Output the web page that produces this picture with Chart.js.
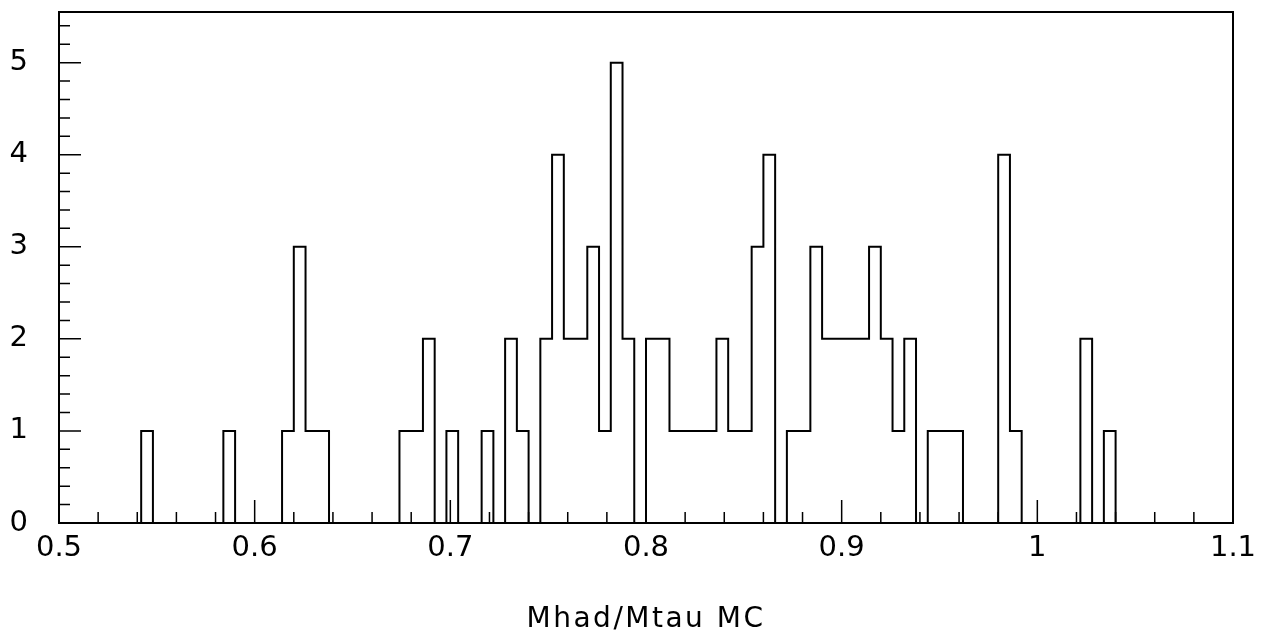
<!DOCTYPE html>
<html>
<head>
<meta charset="utf-8">
<script src="https://cdn.jsdelivr.net/npm/chart.js@4.4.0/dist/chart.umd.min.js"></script>
<style>
  html, body { margin: 0; padding: 0; background: #fff; }
  #wrap { width: 1264px; height: 640px; }
</style>
</head>
<body>
<div id="wrap"><canvas id="hist" width="1264" height="640"></canvas></div>
<script>
// Histogram binning: 100 bins from 0.5 to 1.1
const binLow = 0.5;
const binHigh = 1.1;
const binWidth = 0.006;

// Entries per bin
const counts = [
  0, 0, 0, 0, 0, 0, 0, 1, 0, 0,
  0, 0, 0, 0, 1, 0, 0, 0, 0, 1,
  3, 1, 1, 0, 0, 0, 0, 0, 0, 1,
  1, 2, 0, 1, 0, 0, 1, 0, 2, 1,
  0, 2, 4, 2, 2, 3, 1, 5, 2, 0,
  2, 2, 1, 1, 1, 1, 2, 1, 1, 3,
  4, 0, 1, 1, 3, 2, 2, 2, 2, 3,
  2, 1, 2, 0, 1, 1, 1, 0, 0, 0,
  4, 1, 0, 0, 0, 0, 0, 2, 0, 1,
  0, 0, 0, 0, 0, 0, 0, 0, 0, 0,
];

const xTickValues = [0.5, 0.6, 0.7, 0.8, 0.9, 1.0, 1.1];
const xTickLabels = ["0.5", "0.6", "0.7", "0.8", "0.9", "1", "1.1"];
const yTickValues = [0, 1, 2, 3, 4, 5];
const yTickLabels = ["0", "1", "2", "3", "4", "5"];
const yMax = 5.55;
const xMinorStep = 0.02;
const yMinorStep = 0.2;

// Step outline points at bin left edges, closing at the upper edge
const points = counts.map((c, i) => ({ x: binLow + i * binWidth, y: c }));
points.push({ x: binHigh, y: counts[counts.length - 1] });

const font = "'DejaVu Sans', 'Liberation Sans', sans-serif";

// Wider spacing for the axis title only (tick labels are drawn later, on z 1)
const titleSpacing = {
  id: "titleSpacing",
  beforeDraw(chart) { chart.ctx.letterSpacing = "2.5px"; },
  beforeDatasetsDraw(chart) { chart.ctx.letterSpacing = "0px"; },
};

// PAW style frame with tick marks pointing inwards
const innerTicks = {
  id: "innerTicks",
  afterDatasetsDraw(chart) {
    const { ctx, chartArea: a, scales: { x, y } } = chart;
    ctx.save();
    ctx.strokeStyle = "#000";
    ctx.lineWidth = 2;
    ctx.strokeRect(a.left, a.top, a.right - a.left, a.bottom - a.top);
    ctx.lineWidth = 1.5;
    ctx.beginPath();
    const nx = Math.round((binHigh - binLow) / xMinorStep);
    for (let k = 0; k <= nx; k++) {
      const px = x.getPixelForValue(binLow + k * xMinorStep);
      const len = k % 5 === 0 ? 23 : 11;
      ctx.moveTo(px, a.bottom);
      ctx.lineTo(px, a.bottom - len);
    }
    const ny = Math.floor(yMax / yMinorStep + 1e-9);
    for (let k = 0; k <= ny; k++) {
      const py = y.getPixelForValue(k * yMinorStep);
      const len = k % 5 === 0 ? 22 : 11;
      ctx.moveTo(a.left, py);
      ctx.lineTo(a.left + len, py);
    }
    ctx.stroke();
    ctx.restore();
  },
};

new Chart(document.getElementById("hist").getContext("2d"), {
  type: "line",
  data: {
    datasets: [
      {
        data: points,
        stepped: "before",
        borderColor: "#000",
        borderWidth: 2,
        pointRadius: 0,
        fill: false,
      },
    ],
  },
  options: {
    responsive: false,
    animation: false,
    devicePixelRatio: 1,
    layout: { padding: { top: 12, right: 31, left: 0, bottom: 0 } },
    plugins: {
      legend: { display: false },
      tooltip: { enabled: false },
    },
    scales: {
      x: {
        type: "linear",
        min: binLow,
        max: binHigh,
        grid: { display: false, drawTicks: false },
        border: { display: false },
        afterBuildTicks: (s) => { s.ticks = xTickValues.map((v) => ({ value: v })); },
        afterFit: (s) => {
          s.height = 117;
          s.paddingLeft = s.paddingRight = s.paddingTop = s.paddingBottom = 0;
        },
        ticks: {
          z: 1,
          padding: 8,
          color: "#000",
          font: { family: font, size: 29 },
          maxRotation: 0,
          callback: (v, i) => xTickLabels[i],
        },
        title: {
          display: true,
          text: "Mhad/Mtau MC",
          color: "#000",
          font: { family: font, size: 28 },
          padding: { top: 0, bottom: 3 },
        },
      },
      y: {
        type: "linear",
        min: 0,
        max: yMax,
        grid: { display: false, drawTicks: false },
        border: { display: false },
        afterBuildTicks: (s) => { s.ticks = yTickValues.map((v) => ({ value: v })); },
        afterFit: (s) => {
          s.width = 59;
          s.paddingLeft = s.paddingRight = s.paddingTop = s.paddingBottom = 0;
        },
        ticks: {
          z: 1,
          padding: 31,
          color: "#000",
          font: { family: font, size: 29 },
          callback: (v, i) => yTickLabels[i],
        },
      },
    },
  },
  plugins: [titleSpacing, innerTicks],
});
</script>
</body>
</html>
